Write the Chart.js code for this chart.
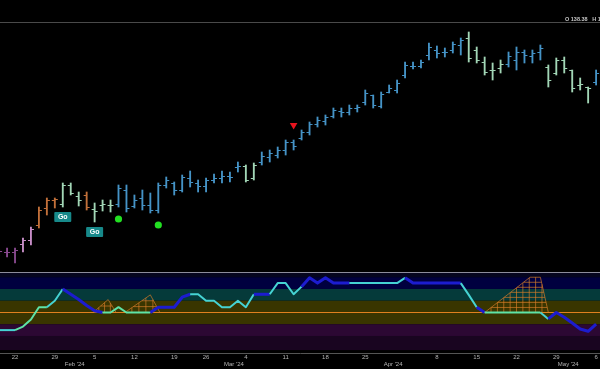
<!DOCTYPE html>
<html lang="en">
<head>
<meta charset="UTF-8">
<title>Price bars with oscillator</title>
<script src="https://cdn.jsdelivr.net/npm/chart.js"></script>
<style>
  * { margin: 0; padding: 0; box-sizing: border-box; }
  body { background: #000; width: 600px; height: 369px; overflow: hidden; }
  canvas { display: block; }
</style>
</head>
<body>
<canvas id="chart" width="600" height="369"></canvas>
<script>
// trading days, Jan 18 - May 6 2024
const days = ['01-18','01-19','01-22','01-23','01-24','01-25','01-26','01-29','01-30','01-31',
  '02-01','02-02','02-05','02-06','02-07','02-08','02-09','02-12','02-13','02-14','02-15','02-16','02-20','02-21','02-22','02-23','02-26','02-27','02-28','02-29',
  '03-01','03-04','03-05','03-06','03-07','03-08','03-11','03-12','03-13','03-14','03-15','03-18','03-19','03-20','03-21','03-22','03-25','03-26','03-27','03-28',
  '04-01','04-02','04-03','04-04','04-05','04-08','04-09','04-10','04-11','04-12','04-15','04-16','04-17','04-18','04-19','04-22','04-23','04-24','04-25','04-26','04-29','04-30',
  '05-01','05-02','05-03','05-06'];

const opens = [95.75,96,96,98,99,102.75,107,109,108,112.75,110,110.25,106.75,107.75,107.75,108,111.5,107.5,109.5,107.75,
  106.5,112.75,113.25,111.5,114.5,113.25,112.5,114,114.5,115,117.25,117.5,114.5,118.5,119.75,120.25,121.5,123.5,124.5,126,
  128,128.75,130,131.25,131,132,133.5,135.25,132.5,136,136.5,140.25,142.5,142.5,145.25,146.5,146,146.5,147.75,149.5,
  146.5,143.5,141.5,142,143,144,146,145,146,142.25,140.75,144,141.5,137.75,137.25,138.38];
const highs = [96.75,97,97,99.5,102.25,107.25,109.5,109.5,113.25,113.25,111,111,108.25,109,109,112.75,112.75,110.25,111.5,110.75,
  113.25,114.75,113.5,115.25,116.25,114,114.5,115.5,116.25,116,118.5,117.75,118.25,121,121.5,122.25,124,124,126.5,128.5,
  129.75,130.25,132,132,132.75,132.75,136.5,135.25,136,137.75,139,143.5,143.5,144,148.25,147.5,147,148.5,149.5,151,
  147.25,144.75,143.25,144,146,147.25,146.5,146.5,147.75,142.75,144.5,144.75,141.5,139.5,137.25,141.5];
const lows = [95,94.75,93.25,96,97.75,102,105.25,107,107.25,110.25,107.5,106.5,103.5,106.25,106,107.25,106,107,106.5,105.75,
  105.75,112,110.25,111,112.25,111,111,113.25,113.25,113.5,116,113.5,114,117.75,118.5,119.5,120.25,121.5,124,125.25,
  127.25,127.75,129.5,129.75,130.25,131,132.75,132,132,135.75,135.75,139.5,141.75,142,144,144.5,144.75,145.75,145.25,143.5,
  143.25,140.25,139,140.75,142.25,141.5,143.25,143.25,144,137.25,140.25,140.75,136,136.5,133.25,137.75];
const closes = [96.25,96,96.5,99,101.75,106.5,109,109.25,112.75,110.75,109,107.25,106.25,108,107.75,112,107,109,107.75,106.5,
  112.75,114,111.5,114.75,113.5,112.5,114,114.5,115,114.75,117.5,114,117.75,120,120.75,121.5,123.5,122.5,126,128,
  129,129.75,131.5,131,132,132.25,135.75,132.75,135.5,137,138.25,142.75,142.5,143.5,147.25,145.75,146,148,149,144.5,
  144,141,141.5,143,145,146,145.25,145.75,147,139,144,142,137,138,137,140.75];

// trend state of each bar: p purple, m pink, o orange, g pale green, b blue
const trend = 'pppmmooogggoggg' + 'bbbbbbbbbbbbbbbb' + 'gg' + 'bbbbbbbbbbbbbbbbbbbbbbbbbb' + 'ggggg' + 'bbbbb' + 'gggggg' + 'b';

// oscillator, one value per bar, and state of the segment ending at that bar
const osc = [-1.5,-1.5,-1.5,-1.2,-0.6,0.45,0.45,1.0,2.0,1.55,1.1,0.6,0.15,0,0,0.45,0,0,0,0,
  0.45,0.45,0.45,1.3,1.55,1.55,1.0,1.0,0.45,0.45,1.0,0.45,1.55,1.55,1.55,2.5,2.5,1.55,2.2,2.95,
  2.5,2.95,2.5,2.5,2.5,2.5,2.5,2.5,2.5,2.5,2.5,2.95,2.5,2.5,2.5,2.5,2.5,2.5,2.5,1.5,
  0.45,0,0,0,0,0,0,0,0,-0.55,0,-0.4,-0.9,-1.4,-1.6,-1.0];
const oscState = 'ccc' + 'gggg' + 'cc' + 'bbbbb' + 'gggggg' + 'bbbbb' + 'cccccccc' + 'bb' + 'cccc' + 'bbbbbb' +
  'ccccccc' + 'bbbbbbb' + 'cc' + 'b' + 'ggggggg' + 'c' + 'bbbbbb';

// oscillator zone levels (top of panel down to bottom)
const bands = [3.45, 3, 2, 1, -1, -2, -3.2];

// squeeze meshes on the oscillator: start, top left, top right, end (bar index), height
const meshStart = [11.8, 15.8, 61];
const meshTopL = [13.7, 19, 66.7];
const meshTopR = [13.7, 19, 68];
const meshEnd = [14.7, 20.2, 69];
const meshTop = [1.1, 1.5, 3.0];

// signals
const goIdx = [8, 12];
const dotIdx = [15, 20];
const arrowIdx = [37];

// axis labels
const weekTicks = [2, 7, 12, 17, 22, 26, 31, 36, 41, 46, 55, 60, 65, 70, 75];
const weekLabels = ['22', '29', '5', '12', '19', '26', '4', '11', '18', '25', '8', '15', '22', '29', '6'];
const monthTicks = [9.5, 29.5, 49.5, 71.5];
const monthLabels = ["Feb '24", "Mar '24", "Apr '24", "May '24"];

const trendColors = { p: '#8a4a90', m: '#c98fc9', o: '#c2703a', g: '#a2d6b6', b: '#4593c6' };
const oscColors = { c: '#45d3d3', g: '#5ee3a6', b: '#1c1ccf' };
const bandColors = ['#05051f', '#00003f', '#053a3a', '#393500', '#2c0833', '#190520'];

const panelPlugin = {
  id: 'panels',
  beforeDatasetsDraw(chart) {
    const { ctx, chartArea } = chart;
    const x = chart.scales.x, y2 = chart.scales.y2;
    const left = chartArea.left, right = chartArea.right;
    ctx.save();
    for (let k = 0; k < bands.length - 1; k++) {
      const t = y2.getPixelForValue(bands[k]), b = y2.getPixelForValue(bands[k + 1]);
      ctx.fillStyle = bandColors[k];
      ctx.fillRect(left, t, right - left, b - t);
    }
    ctx.lineWidth = 1;
    ctx.strokeStyle = '#8c8c9c';
    const sep = Math.round(y2.getPixelForValue(bands[0])) + 0.5;
    ctx.beginPath(); ctx.moveTo(left, sep); ctx.lineTo(right, sep); ctx.stroke();
    ctx.strokeStyle = '#4a4a4a';
    ctx.beginPath(); ctx.moveTo(left, chartArea.top + 0.5); ctx.lineTo(right, chartArea.top + 0.5); ctx.stroke();
    ctx.strokeStyle = '#e0801e';
    ctx.lineWidth = 1.2;
    const z = y2.getPixelForValue(0);
    ctx.beginPath(); ctx.moveTo(left, z); ctx.lineTo(right, z); ctx.stroke();

    // meshes
    const X = v => x.getPixelForValue(v), Y = v => y2.getPixelForValue(v);
    ctx.strokeStyle = 'rgba(215,125,40,0.85)';
    ctx.lineWidth = 0.8;
    meshStart.forEach((s, j) => {
      const pl = meshTopL[j], pr = meshTopR[j], e = meshEnd[j], top = meshTop[j];
      ctx.beginPath();
      ctx.moveTo(X(s), Y(0)); ctx.lineTo(X(pl), Y(top)); ctx.lineTo(X(pr), Y(top)); ctx.lineTo(X(e), Y(0));
      ctx.stroke();
      const n = Math.max(2, Math.round(top / 0.45));
      for (let k = 1; k < n; k++) {
        const v = top * k / n;
        const xl = s + (pl - s) * k / n, xr = e - (e - pr) * k / n;
        ctx.beginPath(); ctx.moveTo(X(xl), Y(v)); ctx.lineTo(X(xr), Y(v)); ctx.stroke();
      }
      const m = Math.max(2, Math.round((e - s) / 0.8));
      for (let k = 1; k < m; k++) {
        const xv = s + (e - s) * k / m;
        const h = xv < pl ? top * (xv - s) / (pl - s) : xv > pr ? top * (e - xv) / (e - pr) : top;
        ctx.beginPath(); ctx.moveTo(X(xv), Y(0)); ctx.lineTo(X(xv), Y(h)); ctx.stroke();
      }
    });
    ctx.restore();
  },
  afterDatasetsDraw(chart) {
    const { ctx } = chart;
    const x = chart.scales.x, y = chart.scales.y;
    ctx.save();
    // open / close ticks
    ctx.lineWidth = 1;
    for (let i = 0; i < opens.length; i++) {
      const xp = x.getPixelForValue(i);
      const yo = Math.round(y.getPixelForValue(opens[i])) + 0.5;
      const yc = Math.round(y.getPixelForValue(closes[i])) + 0.5;
      ctx.strokeStyle = trendColors[trend[i]];
      ctx.beginPath();
      ctx.moveTo(xp - 3, yo); ctx.lineTo(xp, yo);
      ctx.moveTo(xp, yc); ctx.lineTo(xp + 3, yc);
      ctx.stroke();
    }
    // Go labels
    goIdx.forEach(i => {
      const cx = x.getPixelForValue(i), cy = y.getPixelForValue(lows[i]) + 10;
      ctx.fillStyle = '#17898a';
      ctx.beginPath(); ctx.roundRect(cx - 8.5, cy - 5, 17, 10, 1); ctx.fill();
      ctx.fillStyle = '#ffffff';
      ctx.font = 'bold 7px "Liberation Sans", Arial, sans-serif';
      ctx.textAlign = 'center'; ctx.textBaseline = 'middle';
      ctx.fillText('Go', cx, cy + 0.5);
    });
    // green dots
    ctx.fillStyle = '#22e022';
    dotIdx.forEach(i => {
      const cx = x.getPixelForValue(i), cy = y.getPixelForValue(lows[i]) + 12;
      ctx.beginPath(); ctx.arc(cx, cy, 3.6, 0, Math.PI * 2); ctx.fill();
    });
    // red arrow
    ctx.fillStyle = '#e8141e';
    arrowIdx.forEach(i => {
      const cx = x.getPixelForValue(i), cy = y.getPixelForValue(highs[i]) - 14;
      ctx.beginPath();
      ctx.moveTo(cx - 3.8, cy - 3); ctx.lineTo(cx + 3.8, cy - 3); ctx.lineTo(cx, cy + 3.6);
      ctx.closePath(); ctx.fill();
    });
    ctx.restore();
  },
  afterDraw(chart) {
    const { ctx } = chart;
    const last = opens.length - 1;
    ctx.save();
    ctx.fillStyle = '#c4c4c4';
    ctx.font = 'bold 5.5px "Liberation Sans", Arial, sans-serif';
    ctx.textAlign = 'left'; ctx.textBaseline = 'middle';
    ctx.fillText('O ' + opens[last].toFixed(2) + '   H ' + highs[last].toFixed(2), 565, 19);
    ctx.restore();
  }
};

new Chart(document.getElementById('chart'), {
  type: 'bar',
  data: {
    datasets: [
      {
        type: 'line',
        label: 'Oscillator',
        yAxisID: 'y2',
        data: osc.map((v, i) => ({ x: i, y: v })),
        pointRadius: 0,
        borderWidth: 2,
        borderColor: oscColors.c,
        borderJoinStyle: 'round',
        tension: 0,
        segment: {
          borderColor: c => oscColors[oscState[c.p1DataIndex]],
          borderWidth: c => oscState[c.p1DataIndex] === 'b' ? 3 : 2
        }
      },
      {
        type: 'bar',
        label: 'Price',
        yAxisID: 'y',
        data: lows.map((l, i) => ({ x: i, y: [l, highs[i]] })),
        backgroundColor: lows.map((l, i) => trendColors[trend[i]]),
        barThickness: 1.2,
        borderWidth: 0
      }
    ]
  },
  options: {
    responsive: false,
    animation: false,
    events: [],
    layout: { padding: { top: 22, left: 0, right: 0, bottom: 0 } },
    plugins: { legend: { display: false }, tooltip: { enabled: false } },
    scales: {
      x: {
        type: 'linear',
        offset: false,
        min: 0.113,
        max: 75.49,
        afterBuildTicks: axis => {
          axis.ticks = weekTicks.concat(monthTicks).sort((a, b) => a - b).map(v => ({ value: v }));
        },
        afterFit: axis => { axis.height = 16; },
        grid: { display: false, drawTicks: false, offset: false },
        border: { display: true, color: '#555555', width: 1 },
        ticks: {
          autoSkip: false,
          maxRotation: 0,
          padding: 1,
          color: '#b4b4b4',
          font: { family: '"Liberation Sans", Arial, sans-serif', size: 6, lineHeight: 1.15 },
          callback: v => {
            const w = weekTicks.indexOf(v);
            if (w >= 0) return weekLabels[w];
            const m = monthTicks.indexOf(v);
            return m >= 0 ? ['', monthLabels[m]] : '';
          }
        }
      },
      y: { type: 'linear', display: false, min: 70.75, max: 153.5 },
      y2: { type: 'linear', display: false, min: -3.447, max: 24.72 }
    }
  },
  plugins: [panelPlugin]
});
</script>
</body>
</html>
